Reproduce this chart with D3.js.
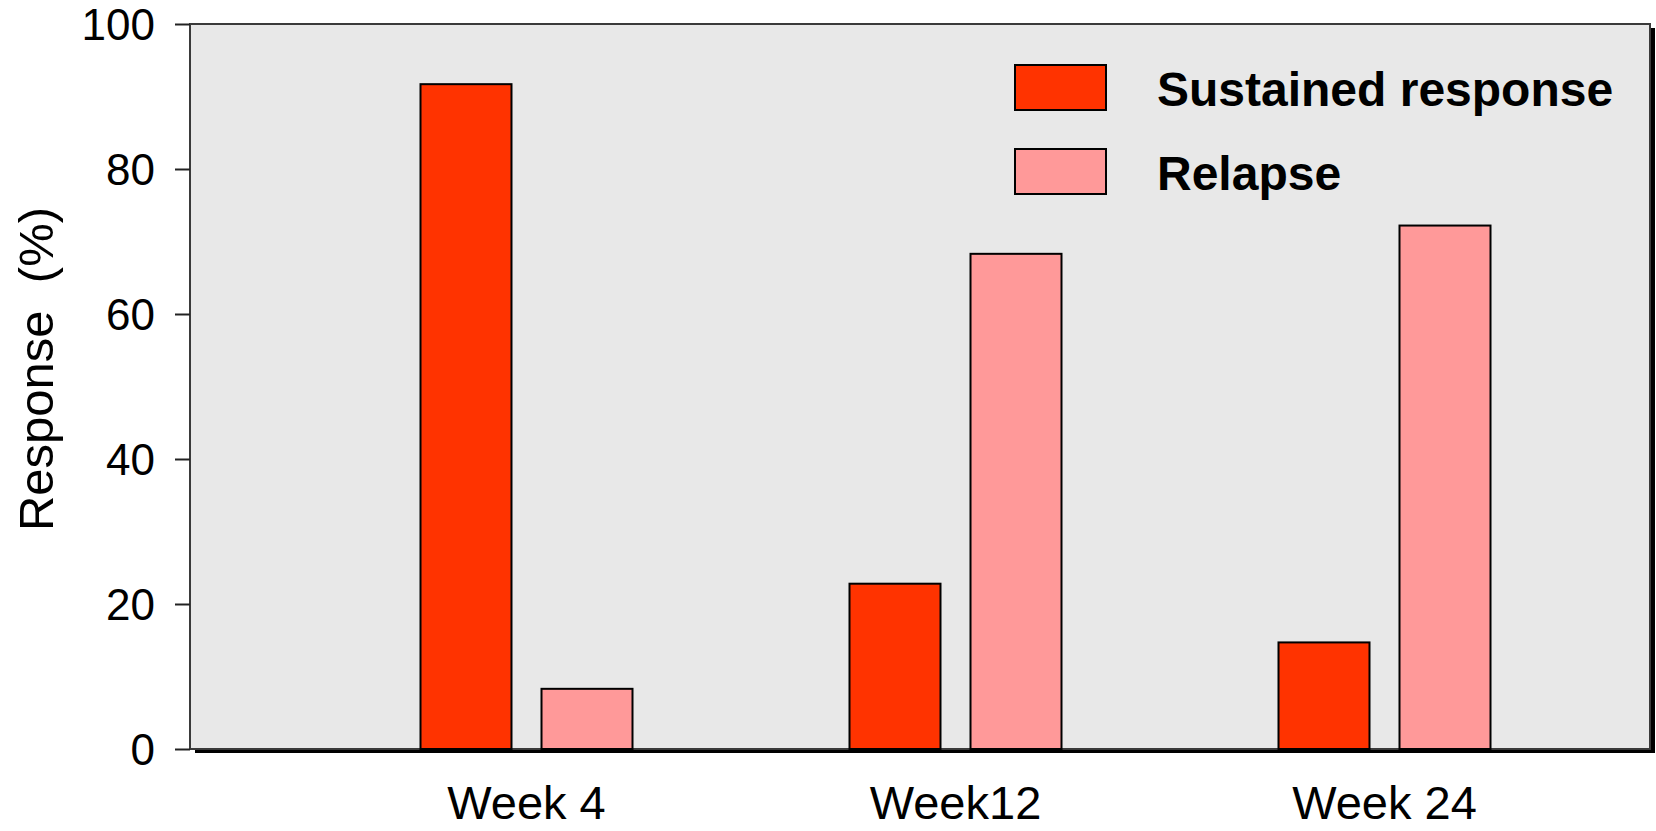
<!DOCTYPE html>
<html>
<head>
<meta charset="utf-8">
<script src="https://cdn.jsdelivr.net/npm/d3@7"></script>
<style>
  html, body { margin: 0; padding: 0; background: #ffffff; }
  svg { display: block; font-family: "Liberation Sans", Arial, Helvetica, sans-serif; }
</style>
</head>
<body>
<svg id="chart" width="1656" height="831"></svg>
<script>
// Response by visit week
const weeks = ["Week 4", "Week12", "Week 24"];
const seriesNames = ["Sustained response", "Relapse"];
const sustained = [91.7, 22.8, 14.7];
const relapse = [8.3, 68.3, 72.2];
const yTicks = [0, 20, 40, 60, 80, 100];
const seriesColors = ["#ff3300", "#ff9999"];

const svg = d3.select("#chart");

// Plot frame
const plot = { left: 190, right: 1650, top: 24, bottom: 749 };

const y = d3.scaleLinear().domain([0, 100]).range([plot.bottom, plot.top]);

const x0 = d3.scaleBand().domain(weeks).range([312, 1599]).paddingInner(0).paddingOuter(0);
const x1 = d3.scaleBand().domain(seriesNames).range([-106, 106]).paddingInner(0.248).paddingOuter(0);

// drop shadow behind the plot area
svg.append("rect")
  .attr("x", plot.left + 5).attr("y", plot.top + 4)
  .attr("width", plot.right - plot.left).attr("height", plot.bottom - plot.top)
  .attr("fill", "#000");

svg.append("rect")
  .attr("x", plot.left).attr("y", plot.top)
  .attr("width", plot.right - plot.left).attr("height", plot.bottom - plot.top)
  .attr("fill", "#e8e8e8")
  .attr("stroke", "#3a3a3a").attr("stroke-width", 2);

// bars
const rows = weeks.map((w, i) => ({ week: w, values: [sustained[i], relapse[i]] }));

const groups = svg.append("g").selectAll("g")
  .data(rows).join("g")
  .attr("transform", d => `translate(${x0(d.week) + x0.bandwidth() / 2},0)`);

groups.selectAll("rect")
  .data(d => d.values.map((v, j) => ({ key: seriesNames[j], value: v, color: seriesColors[j] })))
  .join("rect")
  .attr("x", d => x1(d.key))
  .attr("width", x1.bandwidth())
  .attr("y", d => y(d.value))
  .attr("height", d => y(0) - y(d.value))
  .attr("fill", d => d.color)
  .attr("stroke", "#000").attr("stroke-width", 2);

// y axis
const yAxis = d3.axisLeft(y).tickValues(yTicks).tickSize(15).tickPadding(20).tickFormat(d3.format("d"));
const gy = svg.append("g").attr("transform", `translate(${plot.left},0)`).call(yAxis);
gy.select(".domain").remove();
gy.selectAll(".tick line").attr("stroke", "#222").attr("stroke-width", 2);
gy.selectAll(".tick text")
  .attr("fill", "#000")
  .style("font-size", "44px")
  .attr("dy", "0.36em");

// x labels
svg.append("g").selectAll("text")
  .data(weeks).join("text")
  .attr("x", d => x0(d) + x0.bandwidth() / 2)
  .attr("y", 819)
  .attr("text-anchor", "middle")
  .style("font-size", "47px")
  .attr("fill", "#000")
  .text(d => d);

// y axis title
svg.append("text")
  .attr("transform", "translate(53,369) rotate(-90)")
  .attr("text-anchor", "middle")
  .style("font-size", "49px")
  .attr("fill", "#000")
  .attr("xml:space", "preserve")
  .text("Response  (%)");

// legend
const legend = svg.append("g").selectAll("g")
  .data(seriesNames).join("g")
  .attr("transform", (d, i) => `translate(1015,${65 + i * 84})`);

legend.append("rect")
  .attr("width", 91).attr("height", 45)
  .attr("fill", (d, i) => seriesColors[i])
  .attr("stroke", "#000").attr("stroke-width", 2);

legend.append("text")
  .attr("x", 142).attr("y", 41)
  .style("font-size", "48px").style("font-weight", "bold")
  .attr("fill", "#000")
  .text(d => d);
</script>
</body>
</html>
